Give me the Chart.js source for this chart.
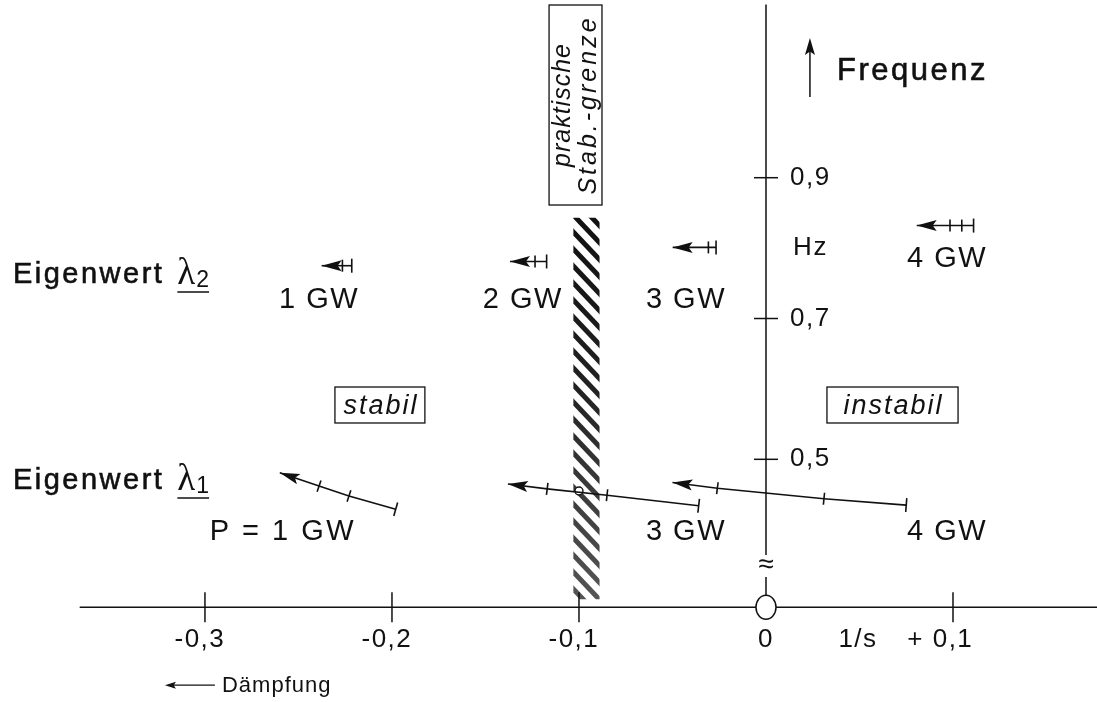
<!DOCTYPE html>
<html>
<head>
<meta charset="utf-8">
<script src="https://cdn.jsdelivr.net/npm/chart.js@4"></script>
<style>
  html, body { margin: 0; padding: 0; background: #fff; }
  #wrap { width: 1097px; height: 702px; }
</style>
</head>
<body>
<div id="wrap"><canvas id="eigenChart"></canvas></div>
<script>
// axis ticks: damping (1/s) and frequency (Hz)
const dampingTicks = [-0.3, -0.2, -0.1, 0, 0.1];
const dampingTickLabels = ['-0,3', '-0,2', '-0,1', '0', '+ 0,1'];
const freqTicks = [0.5, 0.7, 0.9];
const freqTickLabels = ['0,5', '0,7', '0,9'];

// eigenvalue trajectories [damping, frequency]; first point = start bar, last point = arrow tip
const lambda1_1GW = [[-0.198, 0.429], [-0.223, 0.448], [-0.239, 0.462], [-0.260, 0.481]];
const lambda1_3GW = [[-0.036, 0.434], [-0.085, 0.449], [-0.117, 0.458], [-0.138, 0.465]];
const lambda1_4GW = [[0.075, 0.435], [0.031, 0.444], [-0.026, 0.459], [-0.050, 0.467]];

const lambda2_1GW = [[-0.2215, 0.775], [-0.2265, 0.775], [-0.2376, 0.775]];
const lambda2_2GW = [[-0.1173, 0.781], [-0.1235, 0.781], [-0.1369, 0.781]];
const lambda2_3GW = [[-0.0267, 0.801], [-0.0308, 0.801], [-0.0499, 0.801]];
const lambda2_4GW = [[0.1110, 0.832], [0.1047, 0.832], [0.0984, 0.832], [0.0806, 0.832]];

// where the 3 GW trajectory crosses the practical stability limit
const limitCrossing = [[-0.100, 0.455]];
// practical stability limit band (damping from/to)
const limitBand = [-0.103, -0.089];

const axisFreq = 0.29;   // frequency value where the (broken) damping axis sits
const ink = '#111';
const SANS = '"Liberation Sans", Arial, sans-serif';

const toPts = arr => arr.map(p => ({ x: p[0], y: p[1] }));

function segAngle(c) {
    const d = c.dataset.data, i = c.dataIndex;
    const sx = c.chart.scales.x, sy = c.chart.scales.y;
    const a = i === d.length - 1 ? d[i - 1] : d[i];
    const b = i === d.length - 1 ? d[i] : d[i + 1];
    const dx = sx.getPixelForValue(b.x) - sx.getPixelForValue(a.x);
    const dy = sy.getPixelForValue(b.y) - sy.getPixelForValue(a.y);
    return Math.atan2(dy, dx) * 180 / Math.PI;
}

function trajectory(label, arr) {
    return {
        label: label,
        data: toPts(arr),
        showLine: true,
        arrow: true,
        borderColor: ink,
        borderWidth: 1.6,
        tension: 0,
        pointStyle: 'line',
        pointRadius: c => c.dataIndex === c.dataset.data.length - 1 ? 0 : (c.dataIndex === 0 ? 7 : 6),
        pointHoverRadius: 0,
        pointRotation: c => segAngle(c) + 90,
        pointBorderColor: ink,
        pointBorderWidth: 1.6
    };
}

function spaced(ctx, px) {
    if ('letterSpacing' in ctx) ctx.letterSpacing = px + 'px';
}

// filled text with a thin outline, the scan is a bit heavier than regular weight
function inkText(ctx, t, x, y) {
    ctx.fillText(t, x, y);
    ctx.lineWidth = 0.6;
    ctx.strokeText(t, x, y);
}

function arrowHead(ctx, x0, y0, x1, y1, len, half) {
    const a = Math.atan2(y1 - y0, x1 - x0);
    ctx.beginPath();
    ctx.moveTo(x1, y1);
    ctx.lineTo(x1 - len * Math.cos(a) + half * Math.sin(a), y1 - len * Math.sin(a) - half * Math.cos(a));
    ctx.lineTo(x1 - len * Math.cos(a) * 0.8, y1 - len * Math.sin(a) * 0.8);
    ctx.lineTo(x1 - len * Math.cos(a) - half * Math.sin(a), y1 - len * Math.sin(a) + half * Math.cos(a));
    ctx.closePath();
    ctx.fill();
}

function eigenLabel(ctx, x, y, sub) {
    ctx.textAlign = 'left';
    ctx.textBaseline = 'alphabetic';
    ctx.font = '29px ' + SANS;
    spaced(ctx, 2.5);
    inkText(ctx, 'Eigenwert', x, y + 11);
    const lx = x + ctx.measureText('Eigenwert').width + 13;
    spaced(ctx, 0);
    ctx.font = '37px "Liberation Serif", "Times New Roman", serif';
    ctx.fillText('\u03BB', lx, y + 12);
    const sxp = lx + ctx.measureText('\u03BB').width + 1;
    ctx.font = '23px ' + SANS;
    ctx.fillText(sub, sxp, y + 15);
    const end = sxp + ctx.measureText(sub).width;
    ctx.lineWidth = 1.6;
    ctx.beginPath();
    ctx.moveTo(lx, y + 20);
    ctx.lineTo(end, y + 20);
    ctx.stroke();
}

const axesPlugin = {
    id: 'eigenAxes',
    beforeDatasetsDraw(chart) {
        const ctx = chart.ctx;
        const sx = chart.scales.x, sy = chart.scales.y;
        const px = v => sx.getPixelForValue(v);
        const py = f => sy.getPixelForValue(f);
        const ox = px(0), oy = py(axisFreq);
        ctx.save();
        ctx.strokeStyle = ink;
        ctx.fillStyle = ink;

        // hatched stability limit band
        const bx0 = px(limitBand[0]), bx1 = px(limitBand[1]);
        const by0 = py(0.843), by1 = oy - 8;
        ctx.save();
        ctx.beginPath();
        ctx.rect(bx0, by0, bx1 - bx0, by1 - by0);
        ctx.clip();
        const grad = ctx.createLinearGradient(0, by0, 0, by1);
        grad.addColorStop(0, '#111');
        grad.addColorStop(0.45, '#222');
        grad.addColorStop(1, '#555');
        ctx.strokeStyle = grad;
        ctx.lineWidth = 5;
        for (let y = by0 - 40; y < by1 + 20; y += 17) {
            ctx.beginPath();
            ctx.moveTo(bx0 - 3, y);
            ctx.lineTo(bx1 + 3, y + 34);
            ctx.stroke();
        }
        ctx.restore();

        // damping axis (horizontal), broken by the origin circle
        ctx.lineWidth = 1.5;
        ctx.beginPath();
        ctx.moveTo(px(-0.367), oy);
        ctx.lineTo(ox - 10, oy);
        ctx.moveTo(ox + 10, oy);
        ctx.lineTo(chart.width, oy);
        ctx.stroke();
        dampingTicks.forEach(v => {
            if (v === 0) return;
            ctx.beginPath();
            ctx.moveTo(px(v), oy - 15);
            ctx.lineTo(px(v), oy + 15);
            ctx.stroke();
        });

        // frequency axis (vertical) with break
        ctx.beginPath();
        ctx.moveTo(ox, py(1.146));
        ctx.lineTo(ox, py(0.364));
        ctx.moveTo(ox, py(0.333));
        ctx.lineTo(ox, oy - 12);
        ctx.stroke();
        freqTicks.forEach(f => {
            ctx.beginPath();
            ctx.moveTo(ox - 12, py(f));
            ctx.lineTo(ox + 12, py(f));
            ctx.stroke();
        });
        ctx.font = '28px ' + SANS;
        ctx.textAlign = 'center';
        ctx.textBaseline = 'middle';
        ctx.fillText('\u2248', ox, py(0.349));

        // origin circle
        ctx.beginPath();
        ctx.ellipse(ox, oy, 10, 12, 0, 0, Math.PI * 2);
        ctx.fillStyle = '#fff';
        ctx.fill();
        ctx.stroke();
        ctx.fillStyle = ink;

        // tick labels
        ctx.font = '26px ' + SANS;
        spaced(ctx, 1.5);
        ctx.textBaseline = 'middle';
        ctx.textAlign = 'left';
        dampingTickLabels.forEach((t, i) => {
            const num = t.replace(/^[-+ ]+/, '');
            const pre = t.slice(0, t.length - num.length);
            const w = ctx.measureText(num).width;
            const wp = pre ? ctx.measureText(pre).width : 0;
            ctx.fillText(t, px(dampingTicks[i]) - w / 2 - wp, oy + 33);
        });
        ctx.textAlign = 'center';
        ctx.fillText('1/s', px(0.0492), oy + 33);
        ctx.textAlign = 'left';
        freqTickLabels.forEach((t, i) => ctx.fillText(t, ox + 24, py(freqTicks[i])));
        ctx.fillText('Hz', px(0.0145), py(0.800));

        // Dämpfung arrow
        ctx.font = '22px ' + SANS;
        spaced(ctx, 1);
        ctx.fillText('D\u00E4mpfung', px(-0.2909), oy + 79);
        ctx.lineWidth = 1.4;
        ctx.beginPath();
        ctx.moveTo(px(-0.2947), oy + 78);
        ctx.lineTo(px(-0.318), oy + 78);
        ctx.stroke();
        arrowHead(ctx, px(-0.2947), oy + 78, px(-0.3214), oy + 78, 11, 3.5);

        // Frequenz arrow
        ctx.lineWidth = 1.5;
        ctx.beginPath();
        ctx.moveTo(px(0.0235), py(1.0145));
        ctx.lineTo(px(0.0235), py(1.085));
        ctx.stroke();
        arrowHead(ctx, px(0.0235), py(1.0145), px(0.0235), py(1.0984), 17, 5);
        ctx.font = '31px ' + SANS;
        spaced(ctx, 2.5);
        inkText(ctx, 'Frequenz', px(0.038), py(1.0516));

        // Eigenwert labels
        eigenLabel(ctx, px(-0.4027), py(0.766), '2');
        eigenLabel(ctx, px(-0.4027), py(0.4734), '1');

        // power labels
        ctx.font = '29px ' + SANS;
        spaced(ctx, 1.5);
        ctx.textAlign = 'center';
        ctx.textBaseline = 'middle';
        [['1 GW', -0.239, 0.726], ['2 GW', -0.130, 0.726], ['3 GW', -0.0428, 0.726],
         ['4 GW', 0.0968, 0.7845], ['3 GW', -0.0428, 0.3967], ['4 GW', 0.0968, 0.3967]]
            .forEach(l => ctx.fillText(l[0], px(l[1]), py(l[2])));
        spaced(ctx, 2.5);
        ctx.fillText('P = 1 GW', px(-0.2583), py(0.3967));

        // stabil / instabil boxes
        ctx.lineWidth = 1.3;
        ctx.font = 'italic 27px ' + SANS;
        spaced(ctx, 2);
        [['stabil', -0.2305, -0.1824], ['instabil', 0.0326, 0.1027]].forEach(b => {
            const x0 = px(b[1]), x1 = px(b[2]), y0 = py(0.6027), y1 = py(0.5516);
            ctx.strokeRect(x0, y0, x1 - x0, y1 - y0);
            ctx.fillText(b[0], (x0 + x1) / 2 + 1, (y0 + y1) / 2 + 1);
        });

        // practical stability limit label (rotated)
        const lx0 = px(-0.116), lx1 = px(-0.0877), ly0 = py(1.1453), ly1 = py(0.8612);
        ctx.strokeRect(lx0, ly0, lx1 - lx0, ly1 - ly0);
        ctx.save();
        ctx.translate((lx0 + lx1) / 2, (ly0 + ly1) / 2);
        ctx.rotate(-Math.PI / 2);
        ctx.font = 'italic 25px ' + SANS;
        spaced(ctx, 1);
        ctx.fillText('praktische', 0, -12);
        spaced(ctx, 3);
        ctx.fillText('Stab.-grenze', 0, 14);
        ctx.restore();

        ctx.restore();
    },
    afterDatasetsDraw(chart) {
        const ctx = chart.ctx;
        ctx.save();
        ctx.fillStyle = ink;
        chart.data.datasets.forEach((ds, i) => {
            if (!ds.arrow) return;
            const pts = chart.getDatasetMeta(i).data;
            const tip = pts[pts.length - 1], prev = pts[pts.length - 2];
            arrowHead(ctx, prev.x, prev.y, tip.x, tip.y, 20, 5.5);
        });
        ctx.restore();
    }
};

new Chart(document.getElementById('eigenChart'), {
    type: 'scatter',
    data: {
        datasets: [
            trajectory('\u03BB1 1 GW', lambda1_1GW),
            trajectory('\u03BB1 3 GW', lambda1_3GW),
            trajectory('\u03BB1 4 GW', lambda1_4GW),
            trajectory('\u03BB2 1 GW', lambda2_1GW),
            trajectory('\u03BB2 2 GW', lambda2_2GW),
            trajectory('\u03BB2 3 GW', lambda2_3GW),
            trajectory('\u03BB2 4 GW', lambda2_4GW),
            {
                label: 'Grenze',
                data: toPts(limitCrossing),
                pointStyle: 'circle',
                pointRadius: 4,
                pointHoverRadius: 4,
                pointBackgroundColor: '#fff',
                pointBorderColor: ink,
                pointBorderWidth: 1.4
            }
        ]
    },
    options: {
        responsive: true,
        maintainAspectRatio: false,
        animation: false,
        events: [],
        layout: { padding: 0, autoPadding: false },
        scales: {
            x: { type: 'linear', min: -0.4096, max: 0.177, display: false },
            y: { type: 'linear', min: 0.1553, max: 1.1524, display: false }
        },
        plugins: {
            legend: { display: false },
            tooltip: { enabled: false }
        }
    },
    plugins: [axesPlugin]
});
</script>
</body>
</html>
